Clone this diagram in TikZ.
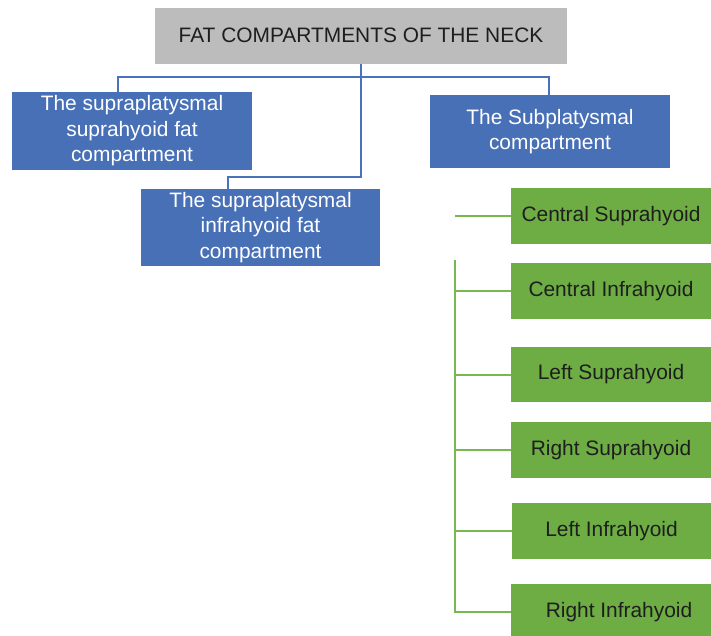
\documentclass[tikz,border=0pt]{standalone}
\usepackage{fontspec}
\setmainfont{Liberation Sans}
\definecolor{topgray}{HTML}{BCBCBC}
\definecolor{boxblue}{HTML}{4870B6}
\definecolor{boxgreen}{HTML}{6DAD44}
\definecolor{lineblue}{HTML}{4A72BC}
\definecolor{linegreen}{HTML}{78B850}
\definecolor{darktext}{HTML}{1E1E1E}
\begin{document}
\begin{tikzpicture}[x=1pt,y=-1pt,
  base/.style={rectangle,inner sep=0pt,align=center,font=\fontsize{20.9}{25.5}\selectfont},
  topbox/.style={base,fill=topgray,text=darktext,minimum width=412pt,minimum height=56pt},
  bluebox/.style={base,fill=boxblue,text=white,minimum width=240pt},
  greenbox/.style={base,fill=boxgreen,text=darktext,minimum width=200pt,minimum height=56pt},
  bline/.style={draw=lineblue,line width=2pt},
  gline/.style={draw=linegreen,line width=2pt}]
\useasboundingbox (0,0) rectangle (711,635);
\fill[white] (0,0) rectangle (711,635);

\node[topbox] (top) at (361,35.5) {FAT COMPARTMENTS OF THE NECK};
\node[bluebox,minimum height=78pt] (b1) at (132,131) {The supraplatysmal\\suprahyoid fat\\compartment};
\node[bluebox,minimum height=77pt,minimum width=239pt] (b2) at (260.5,227.5) {The supraplatysmal\\infrahyoid fat\\compartment};
\node[bluebox,minimum height=73pt] (b3) at (550,131.5) {The Subplatysmal\\compartment};

\node[greenbox] (g1) at (611,216) {Central Suprahyoid};
\node[greenbox] (g2) at (611,291) {Central Infrahyoid};
\node[greenbox,minimum height=55pt] (g3) at (611,374.5) {Left Suprahyoid};
\node[greenbox] (g4) at (611,450) {Right Suprahyoid};
\node[greenbox,minimum width=199pt] (g5) at (611.5,531) {Left Infrahyoid};
\node[greenbox] (g6) at (611,612) {\hspace*{16pt}Right Infrahyoid};

% blue connectors
\coordinate (h1) at (118,77);
\coordinate (h3) at (549,77);
\coordinate (k) at (361,177);
\coordinate (k2) at (228,177);
\draw[bline] (top.south) -- (k) -- (k2) -- (k2 |- b2.north);
\draw[bline] (h1 |- b1.north) -- (h1) -- (h3) -- (h3 |- b3.north);

% green connectors
\coordinate (gs) at (455,216);
\draw[gline] (gs) -- (g1.west);
\coordinate (gv) at (454.5,260);
\draw[gline] (gv) -- (gv |- g6.west) -- (g6.west);
\foreach \g in {g2,g3,g4,g5} {\draw[gline] (gv |- \g.west) -- (\g.west);}
\end{tikzpicture}
\end{document}
